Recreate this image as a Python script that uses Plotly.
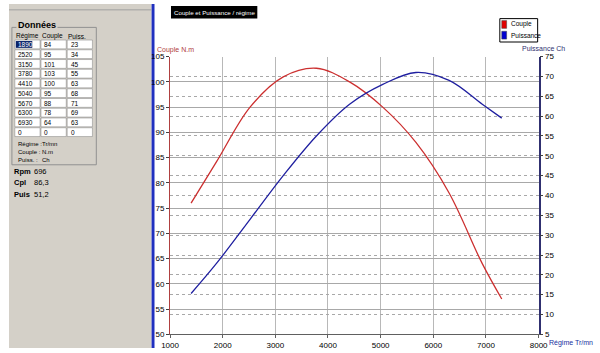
import plotly.graph_objects as go

# ---- data ----
rpm = [1400, 1890, 2520, 3150, 3780, 4410, 5040, 5670, 6300, 6930, 7300]
couple = [76, 84.3, 95, 101, 102.7, 100, 95, 88, 78, 64, 57]
puissance = [15.3, 23, 34, 45, 55, 63, 68, 71, 69, 63, 59.5]

table_regime = ["1890", "2520", "3150", "3780", "4410", "5040", "5670", "6300", "6930", "0"]
table_couple = ["84", "95", "101", "103", "100", "95", "88", "78", "64", "0"]
table_puiss = ["23", "34", "45", "55", "63", "68", "71", "69", "63", "0"]

x_ticks = [1000, 2000, 3000, 4000, 5000, 6000, 7000, 8000]
y1_ticks = [50, 55, 60, 65, 70, 75, 80, 85, 90, 95, 100, 105]
y2_ticks = [5, 10, 15, 20, 25, 30, 35, 40, 45, 50, 55, 60, 65, 70, 75]

W, H = 600, 353
def px(x): return x / W
def py(y): return 1 - y / H

RED = "#cc3030"
BLUE = "#2020a0"
AXRED = "#b04040"
AXBLUE = "#303070"
PANEL = "#d4d0c8"
FONT = "Liberation Sans"

fig = go.Figure()
fig.add_trace(go.Scatter(x=rpm, y=couple, mode="lines", line=dict(color=RED, width=1.3, shape="spline"),
                         name="Couple", yaxis="y", showlegend=False))
fig.add_trace(go.Scatter(x=rpm, y=puissance, mode="lines", line=dict(color=BLUE, width=1.3, shape="spline"),
                         name="Puissance", yaxis="y2", showlegend=False))

shapes = []
ann = []

# left panel
shapes.append(dict(type="rect", xref="paper", yref="paper", x0=0, x1=px(147), y0=0, y1=1,
                   fillcolor=PANEL, line=dict(width=0), layer="below"))
shapes.append(dict(type="rect", xref="paper", yref="paper", x0=px(147), x1=px(150), y0=0, y1=1,
                   fillcolor="#2030c0", line=dict(width=0), layer="below"))
shapes.append(dict(type="line", xref="paper", yref="paper", x0=0, x1=px(147), y0=py(6), y1=py(6),
                   line=dict(color="#a0a0a0", width=1)))
# group box
shapes.append(dict(type="rect", xref="paper", yref="paper", x0=px(3), x1=px(90), y0=py(165), y1=py(24),
                   line=dict(color="#909090", width=1), fillcolor="rgba(0,0,0,0)"))
ann.append(dict(text="<b>Données</b>", x=px(7), y=py(22), xref="paper", yref="paper", xanchor="left",
                yanchor="middle", showarrow=False, bgcolor=PANEL, font=dict(family=FONT, size=9, color="black")))
for txt, xc in [("Régime", 19), ("Couple", 45), ("Puiss.", 70)]:
    ann.append(dict(text=txt, x=px(xc), y=py(33), xref="paper", yref="paper", xanchor="center",
                    yanchor="middle", showarrow=False, font=dict(family=FONT, size=6.5, color="black")))
cols = [(6, 32, table_regime), (33, 59, table_couple), (60, 86, table_puiss)]
for ci, (x0, x1, vals) in enumerate(cols):
    for i, v in enumerate(vals):
        y0 = 37 + 10 * i
        shapes.append(dict(type="rect", xref="paper", yref="paper", x0=px(x0), x1=px(x1),
                           y0=py(y0 + 9), y1=py(y0), fillcolor="white",
                           line=dict(color="#808080", width=0.5)))
        if ci == 0 and i == 0:
            shapes.append(dict(type="rect", xref="paper", yref="paper", x0=px(x0 + 1), x1=px(x0 + 18),
                               y0=py(y0 + 8), y1=py(y0 + 1), fillcolor="#0a246a", line=dict(width=0)))
            col = "white"
        else:
            col = "black"
        ann.append(dict(text=v, x=px(x0 + 1.5), y=py(y0 + 4.7), xref="paper", yref="paper", xanchor="left",
                        yanchor="middle", showarrow=False, font=dict(family=FONT, size=6.5, color=col)))
for j, (a, b) in enumerate([("Régime :", "Tr/mn"), ("Couple :", "N.m"), ("Puiss. :", "Ch")]):
    yy = 144 + 8 * j
    ann.append(dict(text=a, x=px(7), y=py(yy), xref="paper", yref="paper", xanchor="left", yanchor="middle",
                    showarrow=False, font=dict(family=FONT, size=6, color="black")))
    ann.append(dict(text=b, x=px(32), y=py(yy), xref="paper", yref="paper", xanchor="left", yanchor="middle",
                    showarrow=False, font=dict(family=FONT, size=6, color="black")))
for j, (a, b) in enumerate([("Rpm", "696"), ("Cpl", "86,3"), ("Puis", "51,2")]):
    yy = 172 + 11.5 * j
    ann.append(dict(text="<b>" + a + "</b>", x=px(3), y=py(yy), xref="paper", yref="paper", xanchor="left",
                    yanchor="middle", showarrow=False, font=dict(family=FONT, size=7.5, color="black")))
    ann.append(dict(text=b, x=px(24), y=py(yy), xref="paper", yref="paper", xanchor="left", yanchor="middle",
                    showarrow=False, font=dict(family=FONT, size=7.5, color="black")))

# title box
shapes.append(dict(type="rect", xref="paper", yref="paper", x0=px(167), x1=px(256), y0=py(15), y1=py(2),
                   fillcolor="black", line=dict(width=0)))
ann.append(dict(text="Couple et Puissance / régime", x=px(211.5), y=py(8.5), xref="paper", yref="paper",
                xanchor="center", yanchor="middle", showarrow=False,
                font=dict(family=FONT, size=6.2, color="white")))

# legend
shapes.append(dict(type="rect", xref="paper", yref="paper", x0=px(506), x1=px(545), y0=py(39), y1=py(15),
                   line=dict(color="black", width=1), fillcolor="white"))
for j, (name, c) in enumerate([("Couple", "#e00000"), ("Puissance", "#0000d0")]):
    yc = 21 + 11 * j
    shapes.append(dict(type="rect", xref="paper", yref="paper", x0=px(508), x1=px(513), y0=py(yc + 4),
                       y1=py(yc - 4), fillcolor=c, line=dict(color="#404040", width=0.5)))
    ann.append(dict(text=name, x=px(515), y=py(yc), xref="paper", yref="paper", xanchor="left",
                    yanchor="middle", showarrow=False, font=dict(family=FONT, size=6.5, color="black")))

# axis titles
ann.append(dict(text="Couple N.m", x=px(150), y=py(47), xref="paper", yref="paper", xanchor="left",
                yanchor="middle", showarrow=False, font=dict(family=FONT, size=7, color=AXRED)))
ann.append(dict(text="Puissance Ch", x=px(527), y=py(46), xref="paper", yref="paper", xanchor="left",
                yanchor="middle", showarrow=False, font=dict(family=FONT, size=7, color=AXBLUE)))
ann.append(dict(text="Régime Tr/mn", x=px(555), y=py(348), xref="paper", yref="paper", xanchor="left",
                yanchor="middle", showarrow=False, font=dict(family=FONT, size=7, color="#2030a0")))

X0, X1, YT, YB = 166, 546, 54, 339
fig.update_layout(
    width=W, height=H, margin=dict(l=0, r=0, t=0, b=0),
    paper_bgcolor="white", plot_bgcolor="white",
    shapes=shapes, annotations=ann,
    xaxis=dict(domain=[px(X0), px(X1)], range=[1000, 8000], tickvals=x_ticks, ticks="outside", ticklen=3,
               showline=True, linecolor="#606060", linewidth=1, showgrid=True, gridcolor="#b8b8b8",
               gridwidth=1, zeroline=False, tickfont=dict(family=FONT, size=8, color="black"),
               tickcolor="#606060"),
    yaxis=dict(domain=[py(YB), py(YT)], range=[50, 105], tickvals=y1_ticks, ticks="outside", ticklen=3,
               showline=True, linecolor=AXRED, linewidth=1, showgrid=True, gridcolor="#a8a8a8",
               zeroline=False, tickfont=dict(family=FONT, size=8, color="black"), tickcolor="#404040"),
    yaxis2=dict(overlaying="y", side="right", anchor="x", range=[5, 75], tickvals=y2_ticks, ticks="outside",
                ticklen=3, showline=True, linecolor=AXBLUE, linewidth=1.5, showgrid=True, gridcolor="#a8a8a8",
                griddash="dot", zeroline=False, tickfont=dict(family=FONT, size=8, color="black"),
                tickcolor="#404040"),
    showlegend=False,
)
fig.write_html("out.html")
